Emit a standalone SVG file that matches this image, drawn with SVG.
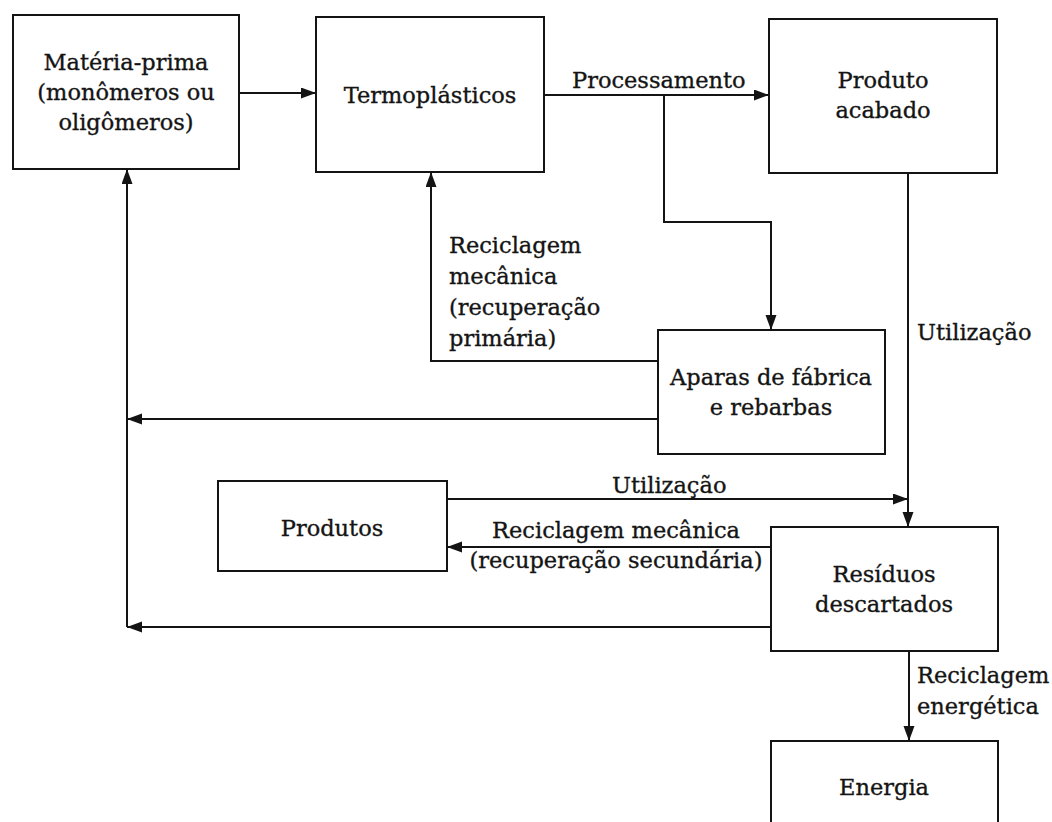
<svg xmlns="http://www.w3.org/2000/svg" width="1052" height="822" viewBox="0 0 1052 822">
  <style>
    .box { fill: #fff; stroke: #141414; stroke-width: 2; }
    .wire { fill: none; stroke: #141414; stroke-width: 2; }
    text { font-family: "DejaVu Serif", "Liberation Serif", serif; font-size: 22.5px; fill: #141414; stroke: #141414; stroke-width: 0.35; }
    .c { text-anchor: middle; }
  </style>
  <defs>
    <marker id="arrow" markerUnits="userSpaceOnUse" markerWidth="16" markerHeight="12" refX="15" refY="5.5" orient="auto">
      <path d="M0,0 L15,5.5 L0,11 z" fill="#141414"/>
    </marker>
  </defs>
  <rect width="1052" height="822" fill="#fff"/>

  <!-- connectors and their labels -->
  <g id="connectors">
    <path class="wire" d="M239,93 H316" marker-end="url(#arrow)"/>
    <path class="wire" d="M544,95 H769" marker-end="url(#arrow)"/>
    <path class="wire" d="M664,95 V222 H771 V330" marker-end="url(#arrow)"/>
    <path class="wire" d="M658,361 H431 V172" marker-end="url(#arrow)"/>
    <path class="wire" d="M658,419 H127" marker-end="url(#arrow)"/>
    <path class="wire" d="M127,627 V169" marker-end="url(#arrow)"/>
    <path class="wire" d="M771,627 H127" marker-end="url(#arrow)"/>
    <path class="wire" d="M908,173 V527" marker-end="url(#arrow)"/>
    <path class="wire" d="M447,499 H908" marker-end="url(#arrow)"/>
    <path class="wire" d="M771,547 H447" marker-end="url(#arrow)"/>
    <path class="wire" d="M909,651 V741" marker-end="url(#arrow)"/>

    <text x="572" y="88">Processamento</text>
    <text x="449" y="253">Reciclagem</text>
    <text x="449" y="284">mecânica</text>
    <text x="449" y="315">(recuperação</text>
    <text x="449" y="346">primária)</text>
    <text x="917" y="340">Utilização</text>
    <text x="612" y="493">Utilização</text>
    <text class="c" x="616" y="538">Reciclagem mecânica</text>
    <text class="c" x="616" y="568">(recuperação secundária)</text>
    <text x="917" y="683">Reciclagem</text>
    <text x="917" y="714">energética</text>
  </g>

  <!-- nodes -->
  <g id="materia-prima">
    <rect class="box" x="13" y="15" width="226" height="154"/>
    <text class="c" x="126" y="70">Matéria-prima</text>
    <text class="c" x="126" y="100">(monômeros ou</text>
    <text class="c" x="126" y="130">oligômeros)</text>
  </g>
  <g id="termoplasticos">
    <rect class="box" x="316" y="17" width="228" height="155"/>
    <text class="c" x="430" y="103">Termoplásticos</text>
  </g>
  <g id="produto-acabado">
    <rect class="box" x="769" y="19" width="228" height="154"/>
    <text class="c" x="883" y="88">Produto</text>
    <text class="c" x="883" y="118">acabado</text>
  </g>
  <g id="aparas">
    <rect class="box" x="658" y="330" width="227" height="124"/>
    <text class="c" x="771" y="385">Aparas de fábrica</text>
    <text class="c" x="771" y="415">e rebarbas</text>
  </g>
  <g id="produtos">
    <rect class="box" x="218" y="481" width="229" height="90"/>
    <text class="c" x="332" y="536">Produtos</text>
  </g>
  <g id="residuos">
    <rect class="box" x="771" y="527" width="227" height="124"/>
    <text class="c" x="884" y="582">Resíduos</text>
    <text class="c" x="884" y="612">descartados</text>
  </g>
  <g id="energia">
    <rect class="box" x="771" y="741" width="227" height="100"/>
    <text class="c" x="884" y="795">Energia</text>
  </g>
</svg>
